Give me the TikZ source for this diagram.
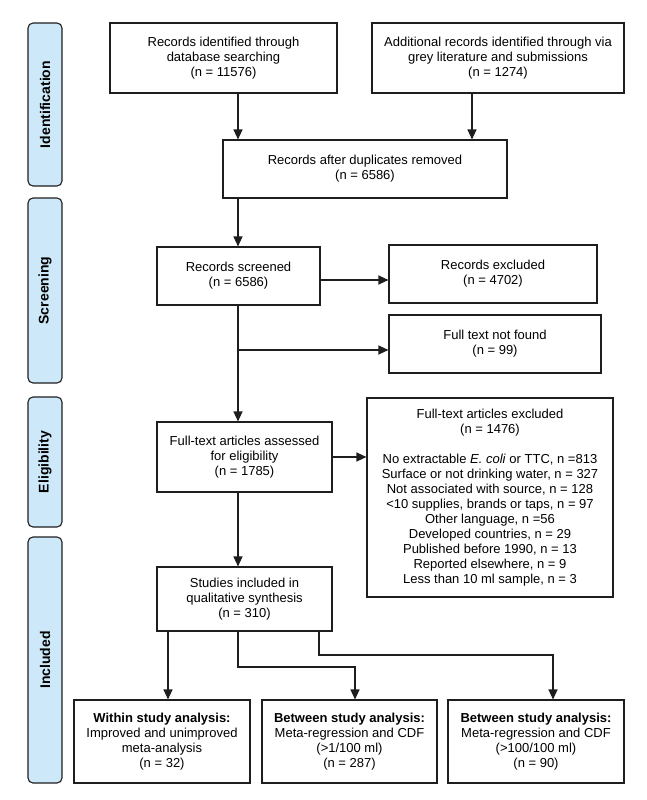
\documentclass[tikz,border=0pt]{standalone}
\usepackage{fontspec}
\setmainfont{Liberation Sans}
\usetikzlibrary{arrows.meta}
\definecolor{sideblue}{RGB}{205,232,248}
\definecolor{linec}{RGB}{30,30,30}
\tikzset{
  box/.style={draw=linec, line width=1.1pt, fill=white, align=center, inner sep=2pt,
    font=\fontsize{13}{15}\selectfont},
  side/.style={draw=linec, line width=1.1pt, fill=sideblue, rounded corners=5pt, rotate=90,
    minimum height=34pt, inner sep=0pt, font=\fontsize{14}{16}\selectfont\bfseries},
  arr/.style={draw=linec, line width=1.1pt, -{Triangle[length=10pt,width=9pt]}},
  ln/.style={draw=linec, line width=1.1pt},
}
\begin{document}
\begin{tikzpicture}[x=1pt,y=-1pt]
\useasboundingbox (0,0) rectangle (646,800);
% side labels
\node[side, minimum width=163pt] (sid) at (45,104.5) {Identification};
\node[side, minimum width=185pt] (sscr) at (45,290.5) {Screening};
\node[side, minimum width=130pt] (seli) at (45,462) {Eligibility};
\node[side, minimum width=246pt] (sinc) at (45,660) {Included};
% boxes
\node[box, minimum width=227pt, minimum height=70pt] (db) at (223.5,58)
  {Records identified through\\database searching\\(n = 11576)};
\node[box, minimum width=252pt, minimum height=70pt] (grey) at (498,58)
  {Additional records identified through via\\grey literature and submissions\\(n = 1274)};
\node[box, minimum width=284pt, minimum height=58pt] (dup) at (365,169)
  {Records after duplicates removed\\(n = 6586)};
\node[box, minimum width=163pt, minimum height=58pt] (scr) at (238.5,276)
  {Records screened\\(n = 6586)};
\node[box, minimum width=208pt, minimum height=58pt] (exc) at (493,274)
  {Records excluded\\(n = 4702)};
\node[box, minimum width=212pt, minimum height=58pt] (nf) at (495,344)
  {Full text not found\\(n = 99)};
\node[box, minimum width=175pt, minimum height=70pt] (ft) at (244.5,457)
  {Full-text articles assessed\\for eligibility\\(n = 1785)};
\node[box, minimum width=246pt, minimum height=199pt] (fte) at (490,497.5)
  {Full-text articles excluded\\(n = 1476)\\[15pt]
   No extractable \textit{E. coli} or TTC, n =813\\
   Surface or not drinking water, n = 327\\
   Not associated with source, n = 128\\
   <10 supplies, brands or taps, n = 97\\
   Other language, n =56\\
   Developed countries, n = 29\\
   Published before 1990, n = 13\\
   Reported elsewhere, n = 9\\
   Less than 10 ml sample, n = 3};
\node[box, minimum width=175pt, minimum height=64pt] (qs) at (244.5,599)
  {Studies included in\\qualitative synthesis\\(n = 310)};
\node[box, minimum width=176pt, minimum height=83pt] (w) at (162,741.5)
  {\textbf{Within study analysis:}\\Improved and unimproved\\meta-analysis\\(n = 32)};
\node[box, minimum width=175pt, minimum height=83pt] (b1) at (349.5,741.5)
  {\textbf{Between study analysis:}\\Meta-regression and CDF\\(>1/100 ml)\\(n = 287)};
\node[box, minimum width=176pt, minimum height=83pt] (b2) at (536,741.5)
  {\textbf{Between study analysis:}\\Meta-regression and CDF\\(>100/100 ml)\\(n = 90)};
% helper coordinates
\coordinate (xa) at (238,0);
\coordinate (xb) at (472,0);
\coordinate (xc) at (168,0);
\coordinate (xd) at (319,0);
\coordinate (ya) at (0,280);
\coordinate (yb) at (0,350);
\coordinate (k1) at (238,667);
\coordinate (k2) at (355,667);
\coordinate (k3) at (319,655);
\coordinate (k4) at (553,655);
\coordinate (br) at (238,350);
% connectors
\draw[arr] (db.south -| xa) -- (dup.north -| xa);
\draw[arr] (grey.south -| xb) -- (dup.north -| xb);
\draw[arr] (dup.south -| xa) -- (scr.north -| xa);
\draw[arr] (scr.east |- ya) -- (exc.west |- ya);
\draw[arr] (scr.south -| xa) -- (ft.north -| xa);
\draw[arr] (br) -- (nf.west |- br);
\draw[arr] (ft.east) -- (fte.west |- ft.east);
\draw[arr] (ft.south -| xa) -- (qs.north -| xa);
\draw[arr] (qs.south -| xc) -- (w.north -| xc);
\draw[arr] (qs.south -| xa) -- (k1) -- (k2) -- (b1.north -| k2);
\draw[arr] (qs.south -| xd) -- (k3) -- (k4) -- (b2.north -| k4);
\end{tikzpicture}
\end{document}
